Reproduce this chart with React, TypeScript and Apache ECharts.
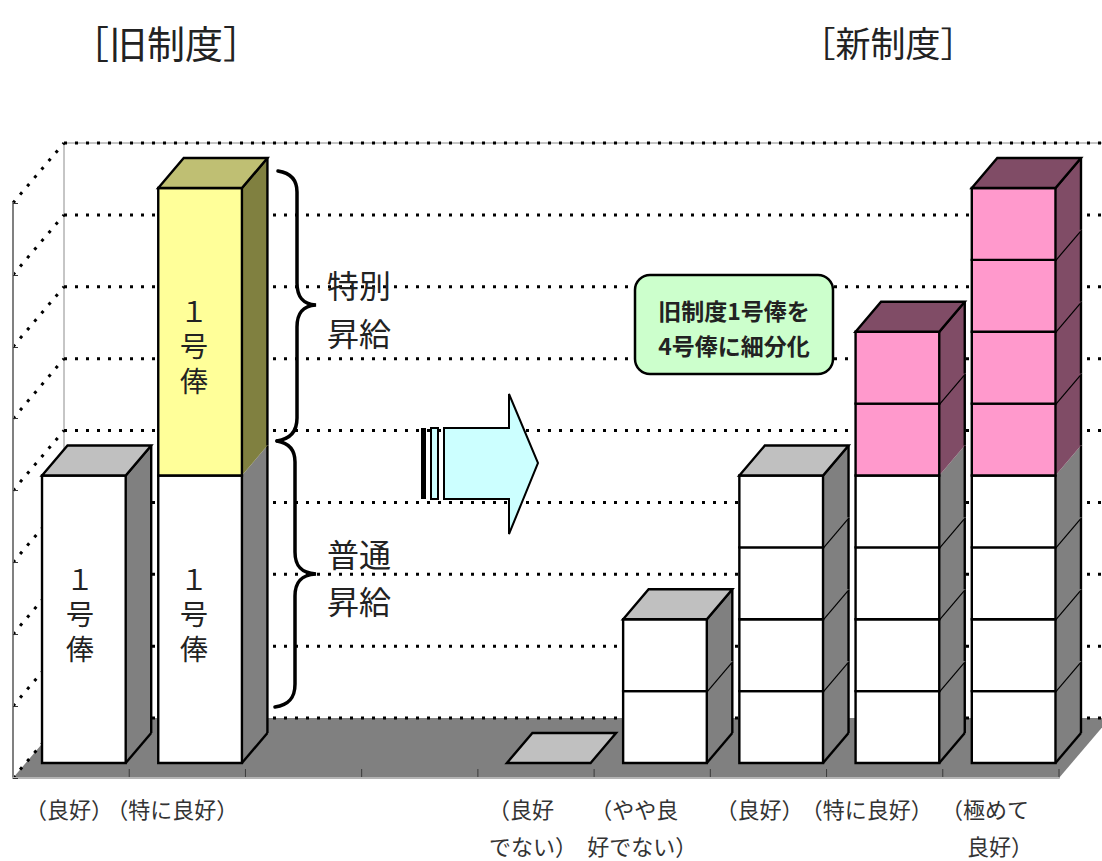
import React, { useEffect, useRef } from "react";
import * as echarts from "echarts";

// Grade categories along the floor; the two schemes share one axis.
const categories = ["old-good", "old-very-good", "gap-a", "gap-b", "new-poor", "new-fair", "new-good", "new-very-good", "new-best"];
const tickLabels = [
  ["（良好）"],
  ["（特に良好）"],
  [""],
  [""],
  ["（良好", "でない）"],
  ["（やや良", "好でない）"],
  ["（良好）"],
  ["（特に良好）"],
  ["（極めて", "良好）"],
];
// Blocks stacked in each column, bottom first: regular raise, then special raise.
const regularBlocks = [[4], [4], [], [], [0], [1, 1], [1, 1, 1, 1], [1, 1, 1, 1], [1, 1, 1, 1]];
const specialBlocks = [[], [4], [], [], [], [], [], [1, 1], [1, 1, 1, 1]];
const gridValues = [0, 1, 2, 3, 4, 5, 6, 7, 8];
const bandEdges = [0, 1, 2, 3, 4, 5, 6, 7, 8, 9];

// Horizontal nudge of each label line from its band centre.
const labelShifts = [[-2], [-15], [0], [0], [-15, -3], [-18, -10], [-9], [-18], [-16, -1]];

const PALETTE: Record<string, { front: string; side: string; top: string }> = {
  regular: { front: "#ffffff", side: "#808080", top: "#c0c0c0" },
  oldSpecial: { front: "#ffff99", side: "#808040", top: "#bfbf73" },
  newSpecial: { front: "#ff99cc", side: "#804c66", top: "#804c66" },
};

const FONT = '"Noto Sans CJK JP", "Noto Sans", sans-serif';
const INK = "#222222";
const WALL = { dx: 51, dy: -60 };
const BAR_NEAR = 0.25;
const BAR_FAR = 0.75;
const BAR_WIDTH = 0.72;

type Block = [number, number, number, string, number];

function buildBlocks(): Block[] {
  const rows: Block[] = [];
  categories.forEach((_, cat) => {
    const regular = regularBlocks[cat];
    const special = specialBlocks[cat];
    const specialKind = cat < 2 ? "oldSpecial" : "newSpecial";
    const all = [
      ...regular.map((h) => ({ h, kind: "regular" })),
      ...special.map((h) => ({ h, kind: specialKind })),
    ];
    let base = 0;
    all.forEach((block, i) => {
      const next = all[i + 1];
      // 0: column cap, 1: seam between like blocks, 2: change of colour above
      const seam = !next ? 0 : next.kind === block.kind ? 1 : 2;
      rows.push([cat, base, base + block.h, block.kind, seam]);
      base += block.h;
    });
  });
  return rows;
}

const allBlocks = buildBlocks();

const blockRender = (params: any, api: any) => {
  const cat = api.value(0);
  const low = api.value(1);
  const high = api.value(2);
  const kind = allBlocks[params.dataIndex][3];
  const seam = api.value(4);
  const colours = PALETTE[kind];
  const band = api.size([1, 0])[0];
  const a = api.coord([cat, low]);
  const b = api.coord([cat, high]);
  const half = (band * BAR_WIDTH) / 2;
  const nx = WALL.dx * BAR_NEAR;
  const ny = WALL.dy * BAR_NEAR;
  const fx = WALL.dx * (BAR_FAR - BAR_NEAR);
  const fy = WALL.dy * (BAR_FAR - BAR_NEAR);
  const x0 = a[0] + nx - half;
  const x1 = a[0] + nx + half;
  const yLow = a[1] + ny;
  const yHigh = b[1] + ny;
  const outline = { stroke: "#000000", lineWidth: 2.4 };
  const children: any[] = [];
  if (high > low) {
    children.push({
      type: "polygon",
      shape: { points: [[x1, yLow], [x1 + fx, yLow + fy], [x1 + fx, yHigh + fy], [x1, yHigh]] },
      style: { fill: colours.side, stroke: null },
    });
    children.push({
      type: "line",
      shape: { x1: x1 + fx, y1: yLow + fy, x2: x1 + fx, y2: yHigh + fy },
      style: outline,
    });
    if (low === 0) {
      children.push({
        type: "line",
        shape: { x1, y1: yLow, x2: x1 + fx, y2: yLow + fy },
        style: outline,
      });
    }
    if (seam !== 2) {
      children.push({
        type: "line",
        shape: { x1, y1: yHigh, x2: x1 + fx, y2: yHigh + fy },
        style: outline,
      });
    }
    children.push({
      type: "rect",
      shape: { x: x0, y: yHigh, width: x1 - x0, height: yLow - yHigh },
      style: { fill: colours.front, ...outline },
    });
  }
  if (seam === 0) {
    children.push({
      type: "polygon",
      shape: { points: [[x0, yHigh], [x1, yHigh], [x1 + fx, yHigh + fy], [x0 + fx, yHigh + fy]] },
      style: { fill: colours.top, ...outline },
    });
  }
  return { type: "group", children };
};

const floorRender = (params: any, api: any) => {
  const { x, width } = params.coordSys;
  const y = api.coord([0, 0])[1];
  return {
    type: "polygon",
    shape: {
      points: [[x, y], [x + width, y], [x + width + WALL.dx, y + WALL.dy], [x + WALL.dx, y + WALL.dy]],
    },
    style: { fill: "#808080", stroke: null },
  };
};

// Short marks at the band boundaries, standing on the floor's front edge.
const floorTickRender = (params: any, api: any) => {
  const { x, width } = params.coordSys;
  const y = api.coord([0, 0])[1];
  const tx = x + (api.value(0) / categories.length) * width;
  return {
    type: "line",
    shape: { x1: tx, y1: y, x2: tx, y2: y - 9 },
    style: { stroke: "#3a3a3a", lineWidth: 1 },
  };
};

const wallRender = (params: any, api: any) => {
  const { x, width } = params.coordSys;
  const y = api.coord([0, api.value(0)])[1];
  const dots = { stroke: "#000000", lineWidth: 3, lineDash: [3, 8], lineCap: "butt" };
  const children: any[] = [
    {
      type: "line",
      shape: { x1: x, y1: y, x2: x + WALL.dx, y2: y + WALL.dy },
      style: dots,
    },
    {
      type: "line",
      shape: { x1: x + WALL.dx, y1: y + WALL.dy, x2: x + width + WALL.dx, y2: y + WALL.dy },
      style: dots,
    },
  ];
  return { type: "group", children };
};

const backEdgeRender = (params: any, api: any) => {
  const { x, width } = params.coordSys;
  const base = api.coord([0, 0])[1] + WALL.dy;
  const top = api.coord([0, 8])[1] + WALL.dy;
  const thin = { stroke: "#8c8c8c", lineWidth: 1 };
  return {
    type: "group",
    children: [
      { type: "line", shape: { x1: x + WALL.dx, y1: base, x2: x + WALL.dx, y2: top }, style: thin },
      { type: "line", shape: { x1: x + WALL.dx, y1: top, x2: x + width + WALL.dx, y2: top }, style: thin },
    ],
  };
};

const axisLabelFormatter = (_v: string, index: number) =>
  tickLabels[index]
    .map((line, i) => (line ? `{c${index}l${i}|${line}}` : ""))
    .join("\n");

function buildRich() {
  const rich: Record<string, any> = {};
  labelShifts.forEach((shifts, c) =>
    shifts.forEach((s, l) => {
      rich[`c${c}l${l}`] = {
        fontFamily: FONT,
        fontSize: 22,
        lineHeight: 37,
        color: "#333333",
        padding: [0, -2 * s, 0, 0],
      };
    })
  );
  return rich;
}

// Curly brace opening to the left, tip pointing right.
const BRACE_UPPER =
  "M278 171 C291 173 297 180 297 192 L297 283 C297 296 302 304 316 305 C302 306 297 314 297 327 L297 418 C297 432 290 439 277 441";
const BRACE_LOWER =
  "M277 441 C289 443 295 450 295 462 L295 552 C295 565 300 573 316 574 C300 575 295 583 295 596 L295 684 C295 698 289 705 275 707";

echarts.graphic.registerShape("braceUpper", echarts.graphic.extendPath(BRACE_UPPER, {}));
echarts.graphic.registerShape("braceLower", echarts.graphic.extendPath(BRACE_LOWER, {}));

const textEl = (text: string, x: number, y: number, fontSize: number, extra: any = {}) => ({
  type: "text",
  x,
  y,
  z: 20,
  style: {
    text,
    fontFamily: FONT,
    fontSize,
    fill: INK,
    align: "center",
    verticalAlign: "middle",
    ...extra,
  },
});

const annotations: any[] = [
  textEl("［旧制度］", 166, 41, 38),
  textEl("［新制度］", 888, 41, 35),
  textEl("１\n号\n俸", 80, 613, 28, { lineHeight: 35 }),
  textEl("１\n号\n俸", 194, 613, 28, { lineHeight: 35 }),
  textEl("１\n号\n俸", 194, 345, 28, { lineHeight: 35 }),
  textEl("特別\n昇給", 359, 308, 32, { lineHeight: 48 }),
  textEl("普通\n昇給", 359, 576, 32, { lineHeight: 47 }),
  { type: "braceUpper", z: 20, style: { fill: "none", stroke: "#000", lineWidth: 3.5, lineCap: "round" } },
  { type: "braceLower", z: 20, style: { fill: "none", stroke: "#000", lineWidth: 3.5, lineCap: "round" } },
  {
    type: "polygon",
    z: 20,
    shape: { points: [[444, 428], [509, 428], [509, 394], [538, 463], [509, 534], [509, 499], [444, 499]] },
    style: { fill: "#ccffff", stroke: "#000", lineWidth: 2 },
  },
  { type: "rect", z: 20, shape: { x: 431, y: 428, width: 7, height: 71 }, style: { fill: "#ccffff", stroke: "#000", lineWidth: 2 } },
  { type: "rect", z: 20, shape: { x: 421, y: 428, width: 5, height: 71 }, style: { fill: "#000" } },
  {
    type: "rect",
    z: 20,
    shape: { x: 635, y: 275, width: 198, height: 99, r: 15 },
    style: { fill: "#ccffcc", stroke: "#000", lineWidth: 2.5 },
  },
  textEl("旧制度1号俸を\n4号俸に細分化", 734, 327, 23, { fontWeight: "bold", lineHeight: 35, fill: "#222" }),
];

export default function App() {
  const ref = useRef<HTMLDivElement>(null);
  useEffect(() => {
    const chart = echarts.init(ref.current!, null, { renderer: "svg" });
    chart.setOption({
      animation: false,
      grid: { left: 13, right: 43, top: 203, bottom: 83, containLabel: false },
      xAxis: {
        type: "category",
        data: categories,
        z: 6,
        axisLine: { lineStyle: { color: "#b4b4b4", width: 2 } },
        axisTick: { show: false },
        axisLabel: { interval: 0, margin: 11, formatter: axisLabelFormatter, rich: buildRich(), hideOverlap: false },
      },
      yAxis: {
        type: "value",
        min: 0,
        max: 8,
        interval: 1,
        z: 6,
        splitLine: { show: false },
        axisLine: { show: true, lineStyle: { color: "#808080", width: 2 } },
        axisTick: { show: true, inside: true, length: 5, lineStyle: { color: "#333333", width: 1 } },
        axisLabel: { show: false },
      },
      series: [
        { type: "custom", z: 1, renderItem: floorRender, data: [[0]], silent: true, clip: false },
        { type: "custom", z: 2, renderItem: backEdgeRender, data: [[0]], silent: true, clip: false },
        { type: "custom", z: 2, renderItem: floorTickRender, data: bandEdges.map((v) => [v]), silent: true, clip: false },
        { type: "custom", z: 3, renderItem: wallRender, data: gridValues.map((v) => [v]), silent: true, clip: false },
        {
          type: "custom",
          z: 4,
          renderItem: blockRender,
          data: allBlocks,
          encode: { x: 0, y: [1, 2] },
          silent: true,
          clip: false,
        },
      ],
      graphic: { elements: annotations },
    });
    return () => chart.dispose();
  }, []);
  return <div ref={ref} style={{ position: "fixed", left: 0, top: 0, width: 1102, height: 861, background: "#fff" }} />;
}
